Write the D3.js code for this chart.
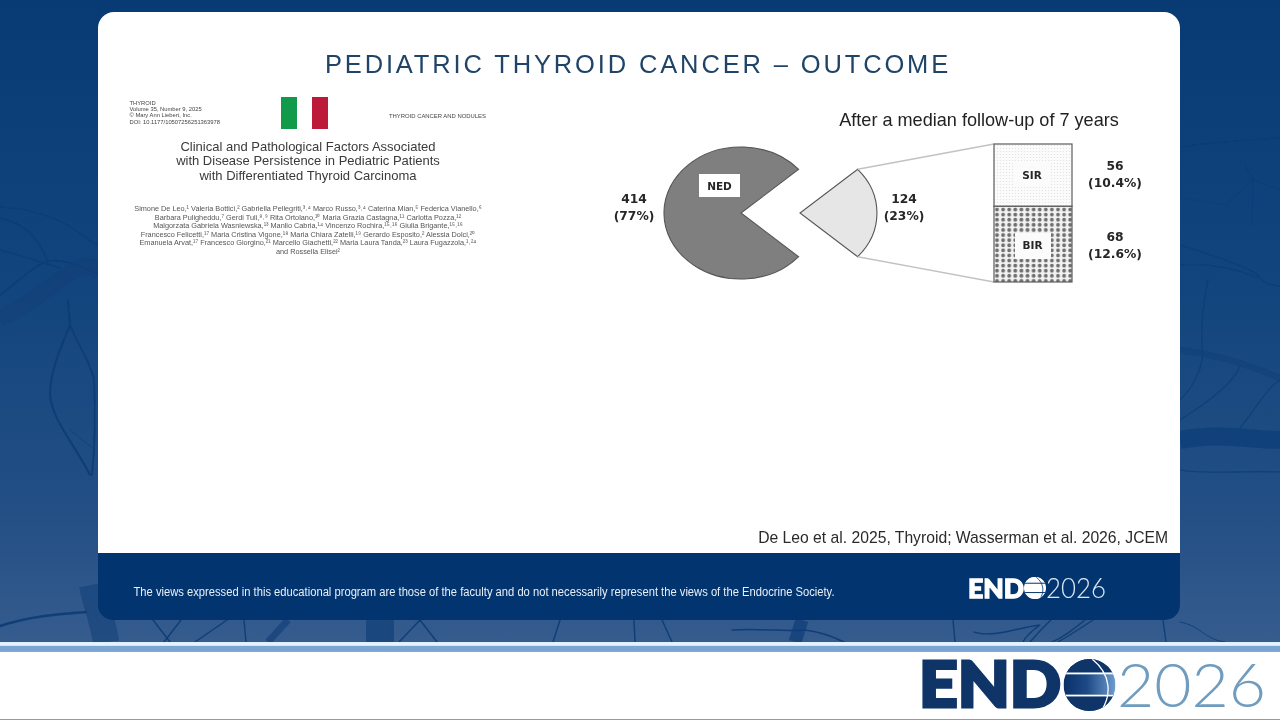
<!DOCTYPE html>
<html><head><meta charset="utf-8">
<script src="https://cdn.jsdelivr.net/npm/d3@7"></script>
<style>html,body{margin:0;padding:0;background:#fff;overflow:hidden}svg{display:block}</style>
</head><body><svg id="c" width="1280" height="720"></svg>
<script>
// ---------- data ----------
const outcomeLabels = ["NED", "Persistent"];
const outcomeValues = [414, 124];
const outcomePercents = ["(77%)", "(23%)"];
const persistentLabels = ["SIR", "BIR"];
const persistentValues = [56, 68];
const persistentPercents = ["(10.4%)", "(12.6%)"];
const slideTitle = "PEDIATRIC THYROID CANCER – OUTCOME";
const chartCaption = "After a median follow-up of 7 years";
const citation = "De Leo et al. 2025, Thyroid; Wasserman et al. 2026, JCEM";
const disclaimer = "The views expressed in this educational program are those of the faculty and do not necessarily represent the views of the Endocrine Society.";
const journalMeta = ["THYROID", "Volume 35, Number 9, 2025", "© Mary Ann Liebert, Inc.", "DOI: 10.1177/10507256251363978"];
const paperTitle = ["Clinical and Pathological Factors Associated", "with Disease Persistence in Pediatric Patients", "with Differentiated Thyroid Carcinoma"];
const paperAuthors = [
 "Simone De Leo,¹ Valeria Bottici,² Gabriella Pellegriti,³˒⁴ Marco Russo,³˒⁴ Caterina Mian,⁵ Federica Vianello,⁶",
 "Barbara Puligheddu,⁷ Gerdi Tuli,⁸˒⁹ Rita Ortolano,¹⁰ Maria Grazia Castagna,¹¹ Carlotta Pozza,¹²",
 "Malgorzata Gabriela Wasniewska,¹³ Manlio Cabria,¹⁴ Vincenzo Rochira,¹⁵˒¹⁶ Giulia Brigante,¹⁵˒¹⁶",
 "Francesco Felicetti,¹⁷ Maria Cristina Vigone,¹⁸ Maria Chiara Zatelli,¹⁹ Gerardo Esposito,² Alessia Dolci,²⁰",
 "Emanuela Arvat,¹⁷ Francesco Giorgino,²¹ Marcello Giachetti,²² Maria Laura Tanda,²³ Laura Fugazzola,¹˒²⁴",
 "and Rossella Elisei²"];

const svg = d3.select("#c");
const sans = "'Liberation Sans', Arial, sans-serif";
const dejavu = "'DejaVu Sans', Verdana, sans-serif";
const defs = svg.append("defs");

// ---------- gradients, filters, patterns ----------
const bg = defs.append("linearGradient").attr("id","bg").attr("x1",0).attr("y1",0).attr("x2",0).attr("y2",1);
[[0,"#083a74"],[0.45,"#12457d"],[0.8,"#234f85"],[1,"#365c8e"]].forEach(d=>bg.append("stop").attr("offset",d[0]).attr("stop-color",d[1]));
const band = defs.append("linearGradient").attr("id","band").attr("x1",0).attr("y1",0).attr("x2",0).attr("y2",1);
[[0,"#dff0fa"],[0.3,"#eaf4fb"],[0.4,"#7ba6d3"],[0.85,"#7aa5d2"],[1,"#dbe8f5"]].forEach(d=>band.append("stop").attr("offset",d[0]).attr("stop-color",d[1]));
const globeG = defs.append("linearGradient").attr("id","globe").attr("x1",0).attr("y1",0).attr("x2",1).attr("y2",0);
[[0,"#0a2f66"],[0.45,"#1d4a86"],[1,"#6d9ccd"]].forEach(d=>globeG.append("stop").attr("offset",d[0]).attr("stop-color",d[1]));
defs.append("filter").attr("id","soft").append("feGaussianBlur").attr("stdDeviation",0.45);
defs.append("filter").attr("id","softer").append("feGaussianBlur").attr("stdDeviation",0.28);
defs.append("filter").attr("id","vein").append("feGaussianBlur").attr("stdDeviation",0.6);
const pSir = defs.append("pattern").attr("id","sir").attr("patternUnits","userSpaceOnUse").attr("width",3).attr("height",3);
pSir.append("rect").attr("width",3).attr("height",3).attr("fill","#fbfbfb");
pSir.append("circle").attr("cx",1.5).attr("cy",1.5).attr("r",0.55).attr("fill","#dedede");
const pBir = defs.append("pattern").attr("id","bir").attr("patternUnits","userSpaceOnUse").attr("width",6.1).attr("height",5.1).attr("x",994).attr("y",207);
pBir.append("rect").attr("width",6.1).attr("height",5.1).attr("fill","#f2f2f2");
pBir.append("circle").attr("cx",3).attr("cy",2.5).attr("r",1.95).attr("fill","#6f6f6f");

// ---------- background ----------
svg.append("rect").attr("width",1280).attr("height",642).attr("fill","url(#bg)");
const veins = svg.append("g").attr("fill","none").attr("stroke","#0c3c75").attr("stroke-linecap","round").attr("filter","url(#vein)");
const veinPaths = [
 ["M0 207 C25 208 55 215 78 232 C88 240 98 245 105 250",1.2,.7],
 ["M0 218 C20 222 38 235 48 262",1.6,.9],
 ["M0 250 C20 255 40 262 60 268",1.5,.8],
 ["M0 295 C15 285 30 268 45 262 C55 258 75 262 100 275",1.6,.9],
 ["M68 300 L70 325 C62 345 50 370 50 395 C52 420 75 445 90 475",2,.9],
 ["M70 325 C78 345 92 365 94 380 C96 420 95 445 92 475",1.8,.9],
 ["M70 430 L95 450",.8,.6],
 ["M0 626 C30 616 60 614 86 612",2.6,.9],
 ["M1180 147 C1210 142 1250 140 1280 138",1.4,.7],
 ["M1253 180 L1225 205 M1253 180 L1252 225 M1253 180 L1280 190 M1253 180 L1245 165",.8,.5],
 ["M1182 198 L1228 205",.7,.4],
 ["M1180 245 C1210 255 1245 265 1258 275 C1265 285 1270 285 1280 286",1.3,.8],
 ["M1180 265 C1210 262 1240 270 1258 278",1.1,.7],
 ["M1208 280 C1202 310 1200 335 1203 355 C1200 375 1190 390 1180 400",1.2,.8],
 ["M1240 365 C1235 385 1195 410 1180 420",1.1,.8],
 ["M1280 380 C1265 390 1255 410 1240 428",1.1,.8],
 ["M1180 470 C1210 475 1250 470 1280 472",1.2,.8],
 ["M1180 622 C1200 625 1205 640 1225 642",1,.8],
 ["M153 620 L170 642 M181 620 L164 642 M227 620 L195 642 M244 620 L246 642",1.4,.95],
 ["M420 620 L399 642 M420 620 L437 642 M560 620 L553 642 M634 620 L635 642 M662 620 L672 642",1.4,.95],
 ["M732 630 C760 628 780 632 805 630 C820 632 832 636 844 642 M953 620 L955 642",1.4,.95],
 ["M974 632 C995 638 1015 628 1040 625 C1030 632 1026 636 1023 642 M1051 620 C1040 630 1034 638 1030 642 M1093 620 C1075 632 1065 638 1058 642 M1085 620 C1070 632 1062 638 1052 642 M1163 620 L1166 642",1.3,.95],
];
veins.selectAll("path").data(veinPaths).join("path").attr("d",d=>d[0]).attr("stroke-width",d=>d[1]).attr("opacity",d=>d[2]);
const trunks = svg.append("g").attr("fill","none").attr("stroke","#0e3f79").attr("stroke-linecap","butt").attr("filter","url(#vein)");
const trunkPaths = [
 ["M0 318 C30 305 50 285 75 270 C85 264 95 268 100 272",16,.55],
 ["M92 585 C96 605 104 625 106 642",26,.6],
 ["M1180 350 C1220 355 1250 365 1280 378",6,.6],
 ["M1180 440 C1220 432 1250 440 1280 440",18,.85],
 ["M288 620 L268 642",7,.65],
 ["M380 620 L380 642",28,.7],
 ["M802 620 L795 642",13,.75],
];
trunks.selectAll("path").data(trunkPaths).join("path").attr("d",d=>d[0]).attr("stroke-width",d=>d[1]).attr("opacity",d=>d[2]);

// ---------- card ----------
svg.append("path").attr("fill","#02346f").attr("d","M98 540 H1180 V605 A15 15 0 0 1 1165 620 H113 A15 15 0 0 1 98 605 Z");
svg.append("path").attr("fill","#fff").attr("d","M98 553 V28 A16 16 0 0 1 114 12 H1164 A16 16 0 0 1 1180 28 V553 Z");

svg.append("text").attr("x",638).attr("y",73).attr("text-anchor","middle")
  .attr("font-family",sans).attr("font-size",25.5).attr("letter-spacing",2.86).attr("fill","#1f4468").text(slideTitle);

// ---------- paper thumbnail ----------
const thumb = svg.append("g").attr("font-family",sans);
thumb.append("g").attr("filter","url(#soft)").selectAll("text").data(journalMeta).join("text")
  .attr("x",129.5).attr("y",(d,i)=>104.5+i*6.4).attr("font-size",5.8).attr("fill","#444").text(d=>d);
thumb.append("text").attr("x",389).attr("y",118).attr("font-size",5.9).attr("fill","#444").attr("filter","url(#soft)").text("THYROID CANCER AND NODULES");
thumb.append("rect").attr("x",281).attr("y",97).attr("width",16).attr("height",32).attr("fill","#119a4a");
thumb.append("rect").attr("x",312).attr("y",97).attr("width",16).attr("height",32).attr("fill","#bd1a39");
thumb.append("g").attr("filter","url(#softer)").selectAll("text").data(paperTitle).join("text")
  .attr("x",308).attr("y",(d,i)=>150.5+i*14.6).attr("text-anchor","middle").attr("font-size",13).attr("fill","#3a3a3a").text(d=>d);
thumb.append("g").attr("filter","url(#soft)").selectAll("text").data(paperAuthors).join("text")
  .attr("x",308).attr("y",(d,i)=>211+i*8.55).attr("text-anchor","middle").attr("font-size",7.3).attr("fill","#555").text(d=>d);

// ---------- pie of pie ----------
svg.append("text").attr("x",979).attr("y",126).attr("text-anchor","middle")
  .attr("font-family",sans).attr("font-size",18.1).attr("fill","#222").text(chartCaption);

const rx = 77, ry = 66;
const smallAngle = 2*Math.PI*outcomeValues[1]/d3.sum(outcomeValues);
const pie = d3.pie().sort(null).startAngle(Math.PI/2+smallAngle/2).endAngle(Math.PI/2+smallAngle/2+2*Math.PI);
const arcs = pie(outcomeValues);
const arc = d3.arc().innerRadius(0).outerRadius(1);
const sx = d3.scaleLinear().domain([-1,1]).range([-rx,rx]);
const sy = d3.scaleLinear().domain([-1,1]).range([-ry,ry]);
const centers = [[741,213],[800,213]];
const pieFill = ["#7f7f7f","#e6e6e6"];
const pieG = svg.append("g");
pieG.selectAll("path").data(arcs).join("path")
  .attr("transform",(d,i)=>`translate(${centers[i][0]},${centers[i][1]}) scale(${sx(1)},${sy(1)})`)
  .attr("d",arc).attr("fill",(d,i)=>pieFill[i]).attr("stroke","#555").attr("stroke-width",1.1)
  .attr("vector-effect","non-scaling-stroke");

// stacked persistence bar
const barX = 994, barW = 78;
const yBar = d3.scaleLinear().domain([0,d3.sum(persistentValues)]).range([144,282]);
let acc = 0;
const stack = persistentValues.map(v=>{const s={y0:acc,y1:acc+v};acc+=v;return s;});
const a1 = arcs[1];
const arcEnd = (ang)=>[centers[1][0]+sx(Math.sin(ang)),centers[1][1]+sy(-Math.cos(ang))];
const conn = [[arcEnd(a1.startAngle),[barX,yBar(0)]],[arcEnd(a1.endAngle),[barX,yBar(d3.sum(persistentValues))]]];
svg.append("g").selectAll("line").data(conn).join("line")
  .attr("x1",d=>d[0][0]).attr("y1",d=>d[0][1]).attr("x2",d=>d[1][0]).attr("y2",d=>d[1][1])
  .attr("stroke","#c2c2c2").attr("stroke-width",1.4);
svg.append("g").selectAll("rect").data(stack).join("rect")
  .attr("x",barX).attr("y",d=>yBar(d.y0)).attr("width",barW).attr("height",d=>yBar(d.y1)-yBar(d.y0))
  .attr("fill",(d,i)=>i?"url(#bir)":"url(#sir)").attr("stroke","#5c5c5c").attr("stroke-width",1.2);

const lab = svg.append("g").attr("font-family",dejavu).attr("font-weight",700).attr("fill","#262626").attr("text-anchor","middle");
lab.append("rect").attr("x",699).attr("y",174).attr("width",41).attr("height",23).attr("fill","#fff");
lab.append("text").attr("x",719.5).attr("y",190).attr("font-size",10.5).text(outcomeLabels[0]);
lab.append("rect").attr("x",1014).attr("y",163).attr("width",36).attr("height",23).attr("fill","#fbfbfb");
lab.append("text").attr("x",1032).attr("y",179).attr("font-size",10.5).text(persistentLabels[0]);
lab.append("rect").attr("x",1015).attr("y",233).attr("width",36).attr("height",26).attr("fill","#fbfbfb");
lab.append("text").attr("x",1032.5).attr("y",249).attr("font-size",10.5).text(persistentLabels[1]);
const valuePos = [[634,outcomeValues[0],outcomePercents[0],203],[904,outcomeValues[1],outcomePercents[1],203],
                  [1115,persistentValues[0],persistentPercents[0],170],[1115,persistentValues[1],persistentPercents[1],241]];
valuePos.forEach(d=>{
  lab.append("text").attr("x",d[0]).attr("y",d[3]).attr("font-size",12.3).text(d[1]);
  lab.append("text").attr("x",d[0]).attr("y",d[3]+17).attr("font-size",12.3).text(d[2]);
});

svg.append("text").attr("x",1168).attr("y",543).attr("text-anchor","end").attr("font-family",sans)
  .attr("font-size",15.7).attr("fill","#2a2a2a").text(citation);
svg.append("text").attr("x",133.5).attr("y",596).attr("font-family",sans).attr("font-size",12).attr("fill","#e8f0f8")
  .attr("textLength",701).attr("lengthAdjust","spacingAndGlyphs").text(disclaimer);

// ---------- footer band ----------
svg.append("rect").attr("y",642).attr("width",1280).attr("height",11).attr("fill","url(#band)");
svg.append("rect").attr("y",652).attr("width",1280).attr("height",67).attr("fill","#fff");
svg.append("rect").attr("y",719).attr("width",1280).attr("height",1).attr("fill","#9a9a9a");

// ---------- logos ----------
function logo(x0, endW, cx, cy, r, x2, yearW, baseY, fs, colEnd, colYear, gFill, lineCol, capCol, id){
  const g = svg.append("g").attr("font-family","Lato, Inter, sans-serif");
  g.append("text").attr("x",x0).attr("y",baseY).attr("font-size",fs).attr("font-weight",900).attr("fill",colEnd)
   .attr("stroke",colEnd).attr("stroke-width",fs*0.05)
   .attr("textLength",endW).attr("lengthAdjust","spacingAndGlyphs").text("END");
  defs.append("clipPath").attr("id",id).append("circle").attr("cx",cx).attr("cy",cy).attr("r",r);
  const gl = g.append("g").attr("clip-path",`url(#${id})`);
  gl.append("rect").attr("x",cx-r).attr("y",cy-r).attr("width",2*r).attr("height",2*r).attr("fill",gFill);
  gl.append("rect").attr("x",cx-r).attr("y",cy-r).attr("width",2*r).attr("height",r*0.52).attr("fill",capCol);
  gl.append("rect").attr("x",cx-r).attr("y",cy+r*0.37).attr("width",2*r).attr("height",r*0.63).attr("fill",capCol);
  gl.append("rect").attr("x",cx-r).attr("y",cy-r*0.48).attr("width",2*r).attr("height",Math.max(1,r*0.07)).attr("fill",lineCol);
  gl.append("rect").attr("x",cx-r).attr("y",cy+r*0.37).attr("width",2*r).attr("height",Math.max(1,r*0.07)).attr("fill",lineCol);
  gl.append("path").attr("d",`M${cx+r*0.1} ${cy-r} C${cx+r*0.85} ${cy-r*0.4} ${cx+r*0.85} ${cy+r*0.4} ${cx+r*0.45} ${cy+r}`)
    .attr("fill","none").attr("stroke",lineCol).attr("stroke-width",Math.max(.8,r*0.05));
  g.append("text").attr("x",x2).attr("y",baseY).attr("font-size",fs).attr("font-weight",300).attr("fill",colYear)
   .attr("textLength",yearW).attr("lengthAdjust","spacingAndGlyphs").text("2026");
}
logo(919,142,1089.5,685,26,1117,149,707,62,"#0f3468","#6f9cbf","url(#globe)","#fff","#0f3468","g1");
logo(968,56,1035,588,11,1046,60,597.5,26.5,"#fff","#dce8f3","#fff","#02346f","#fff","g2");
</script></body></html>
